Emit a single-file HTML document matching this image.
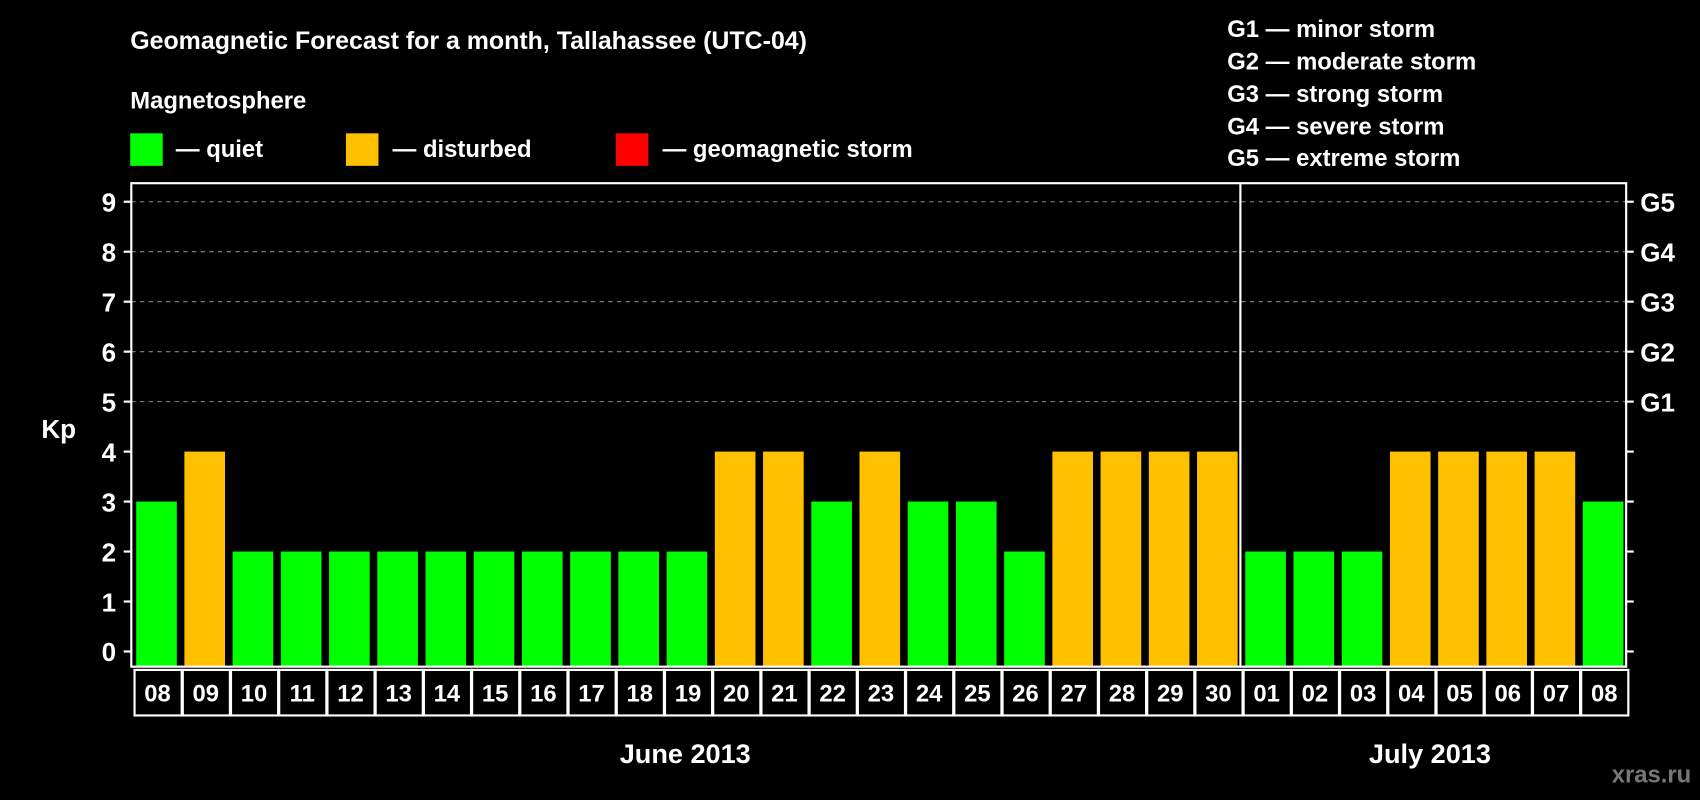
<!DOCTYPE html>
<html><head><meta charset="utf-8"><style>
html,body{margin:0;padding:0;background:#000;width:1700px;height:800px;overflow:hidden}
svg{display:block}
text{font-family:"Liberation Sans",Arial,sans-serif;font-weight:bold;fill:#fff}
</style></head><body>
<svg id="chart" width="1700" height="800" viewBox="0 0 1568 738" xmlns="http://www.w3.org/2000/svg">
<rect width="1568" height="738" fill="#000"/>
<text x="120" y="45" font-size="23">Geomagnetic Forecast for a month, Tallahassee (UTC-04)</text>
<text x="120" y="100" font-size="22">Magnetosphere</text>
<g><rect x="120" y="123" width="30" height="30" fill="#00ff00"/><text x="162" y="145" font-size="22">— quiet</text></g>
<g><rect x="319" y="123" width="30" height="30" fill="#ffc000"/><text x="362" y="145" font-size="22">— disturbed</text></g>
<g><rect x="568" y="123" width="30" height="30" fill="#ff0000"/><text x="611" y="145" font-size="22">— geomagnetic storm</text></g>
<g font-size="22">
<text x="1132" y="34">G1 — minor storm</text>
<text x="1132" y="64">G2 — moderate storm</text>
<text x="1132" y="94">G3 — strong storm</text>
<text x="1132" y="124">G4 — severe storm</text>
<text x="1132" y="153">G5 — extreme storm</text>
</g>
<text x="38" y="404" font-size="24">Kp</text>
<g id="grid"></g><g id="bars"></g><g id="axes"></g><g id="xlabels"></g>
<text x="632" y="704" font-size="25" text-anchor="middle">June 2013</text>
<text x="1319" y="704" font-size="25" text-anchor="middle">July 2013</text>
<text x="1560" y="722" font-size="22" text-anchor="end" style="fill:#777">xras.ru</text>
</svg>
<script>
const days = ["08","09","10","11","12","13","14","15","16","17","18","19","20","21","22","23","24","25","26","27","28","29","30","01","02","03","04","05","06","07","08"];
const kpValues = [3,4,2,2,2,2,2,2,2,2,2,2,4,4,3,4,3,3,2,4,4,4,4,2,2,2,4,4,4,4,3];
const yTicks = [0,1,2,3,4,5,6,7,8,9];
const gLabels = ["G1","G2","G3","G4","G5"];
const monthBreakIndex = 23;

const NS="http://www.w3.org/2000/svg";
const L=121,R=1500,T=169,B=615,Y0=601,UNIT=46.1;
const slot=(R-L)/days.length;
const y=v=>Y0-v*UNIT;
const x=i=>L+i*slot;
function mk(tag,attrs,parent){const e=document.createElementNS(NS,tag);for(const k in attrs)e.setAttribute(k,attrs[k]);parent.appendChild(e);return e;}
const grid=document.getElementById('grid'),bars=document.getElementById('bars'),axes=document.getElementById('axes'),xl=document.getElementById('xlabels');
yTicks.forEach(v=>{
  if(v>=5){const g=mk('line',{x1:L,x2:R,y1:y(v),y2:y(v),stroke:'#888','stroke-width':1,'stroke-dasharray':'4,4'},grid);
    
    }
  const t=mk('line',{x1:L-7,x2:L,y1:y(v),y2:y(v),stroke:'#fff','stroke-width':2},axes);
  
  
  mk('line',{x1:R,x2:R+7,y1:y(v),y2:y(v),stroke:'#fff','stroke-width':2},axes);
  const lb=mk('text',{x:L-14,y:y(v)+9,'font-size':24,'text-anchor':'end'},axes);lb.textContent=v;
  
  
});
gLabels.forEach((g,i)=>{const t=mk('text',{x:R+13,y:y(5+i)+9,'font-size':24},axes);t.textContent=g;
  
  });
kpValues.forEach((v,i)=>{
  const r=mk('rect',{x:x(i)+4.5,y:y(v),width:slot-7,height:B-y(v),fill:v>=5?'#ff0000':(v>=4?'#ffc000':'#00ff00')},bars);
  
  
});
mk('rect',{x:L,y:T,width:R-L,height:B-T,fill:'none',stroke:'#fff','stroke-width':2},axes);
const dv=mk('line',{x1:x(monthBreakIndex),x2:x(monthBreakIndex),y1:T,y2:B,stroke:'#fff','stroke-width':2},axes);


days.forEach((d,i)=>{
  mk('rect',{x:x(i)+3,y:618,width:slot-1,height:42,fill:'none',stroke:'#fff','stroke-width':2},xl);
  const t=mk('text',{x:x(i)+slot/2+2,y:647,'font-size':22,'text-anchor':'middle'},xl);t.textContent=d;
  
  
});
</script>
</body></html>
